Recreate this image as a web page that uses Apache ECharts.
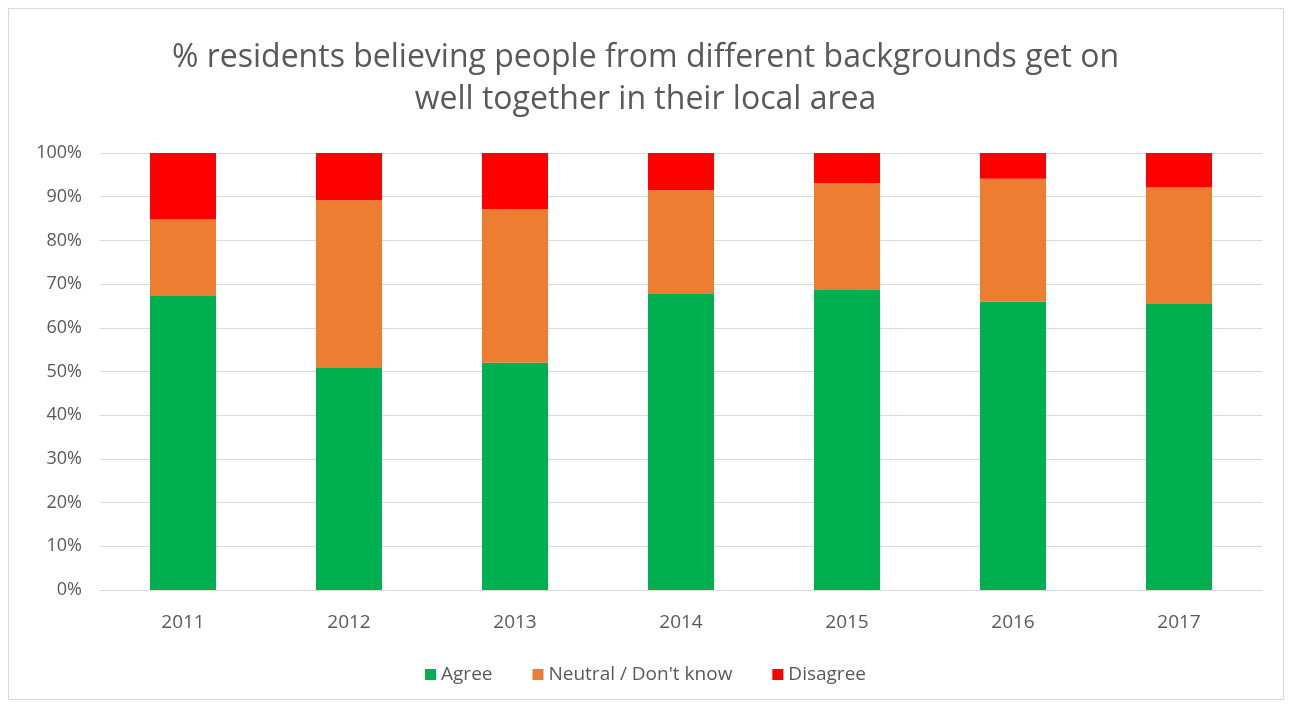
<!DOCTYPE html>
<html>
<head>
<meta charset="utf-8">
<script src="https://cdn.jsdelivr.net/npm/echarts@6/dist/echarts.min.js"></script>
<style>
  html, body { margin: 0; padding: 0; background: #fff; }
  #chart { width: 1291px; height: 704px; }
  #frame { position: absolute; left: 8px; top: 8px; width: 1274px; height: 690px; border: 1px solid #d9d9d9; pointer-events: none; }
</style>
</head>
<body>
<div id="chart"></div>
<div id="frame"></div>
<script>
const years = ['2011', '2012', '2013', '2014', '2015', '2016', '2017'];
const agree = [67.3, 51.0, 52.0, 67.9, 68.8, 66.0, 65.6];
const neutral = [17.5, 38.2, 35.2, 23.6, 24.3, 28.1, 26.5];
const disagree = [15.2, 10.8, 12.8, 8.5, 6.9, 5.9, 7.9];

const fontFam = '"Open Sans", sans-serif';
const chart = echarts.init(document.getElementById('chart'));

chart.setOption({
    animation: false,
    title: {
        text: '% residents believing people from different backgrounds get on\nwell together in their local area',
        left: 'center',
        top: 32,
        textStyle: { fontFamily: fontFam, fontSize: 32, fontWeight: 'normal', color: '#595959', lineHeight: 42 }
    },
    legend: {
        data: ['Agree', 'Neutral / Don\'t know', 'Disagree'],
        bottom: 15,
        left: 'center',
        itemWidth: 11,
        itemHeight: 11,
        itemGap: 40,
        icon: 'rect',
        textStyle: { fontFamily: fontFam, fontSize: 19, color: '#595959' }
    },
    grid: { left: 100, right: 29, top: 153, bottom: 114 },
    xAxis: {
        type: 'category',
        data: years,
        axisLine: { lineStyle: { color: '#d9d9d9', width: 1 } },
        axisTick: { show: false },
        axisLabel: { fontFamily: fontFam, fontSize: 19, color: '#595959', margin: 23 }
    },
    yAxis: {
        type: 'value',
        min: 0,
        max: 100,
        interval: 10,
        axisLine: { show: false },
        axisTick: { show: false },
        axisLabel: { formatter: '{value}%', fontFamily: fontFam, fontSize: 18, color: '#595959', margin: 18 },
        splitLine: { lineStyle: { color: '#d9d9d9', width: 1 } }
    },
    series: [
        { name: 'Agree', type: 'bar', stack: 'all', data: agree, barWidth: 66, itemStyle: { color: '#00B050' } },
        { name: 'Neutral / Don\'t know', type: 'bar', stack: 'all', data: neutral, barWidth: 66, itemStyle: { color: '#ED7D31' } },
        { name: 'Disagree', type: 'bar', stack: 'all', data: disagree, barWidth: 66, itemStyle: { color: '#FF0000' } }
    ]
});
</script>
</body>
</html>
